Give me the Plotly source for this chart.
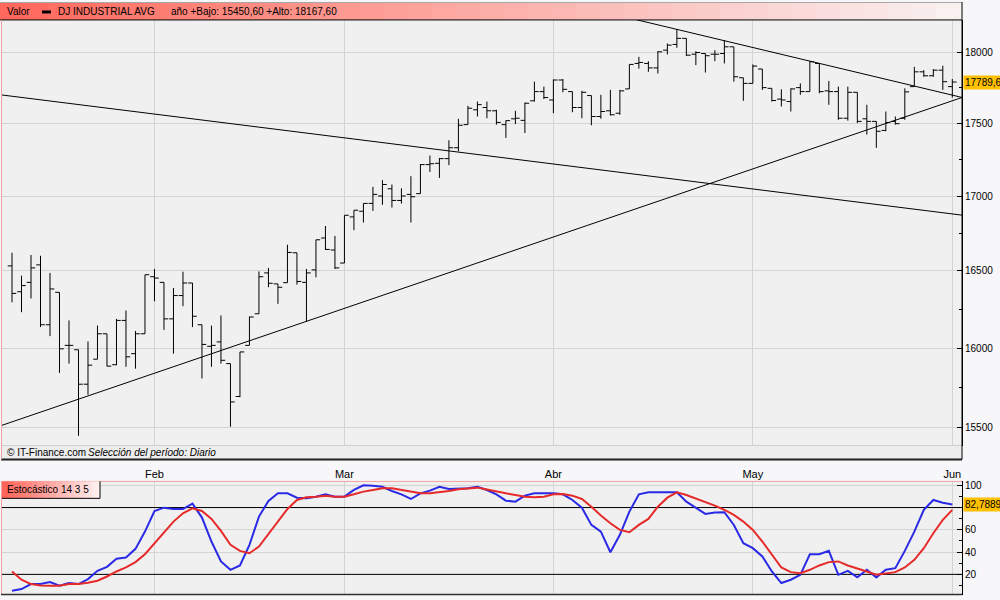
import math
import plotly.graph_objects as go

# trading days shown (DJ Industrial, daily bars)
dates = (
    ["2016-01-%02d" % d for d in [8, 11, 12, 13, 14, 15, 19, 20, 21, 22, 25, 26, 27, 28, 29]]
    + ["2016-02-%02d" % d for d in [1, 2, 3, 4, 5, 8, 9, 10, 11, 12, 16, 17, 18, 19, 22, 23, 24, 25, 26, 29]]
    + ["2016-03-%02d" % d for d in [1, 2, 3, 4, 7, 8, 9, 10, 11, 14, 15, 16, 17, 18, 21, 22, 23, 24, 28, 29, 30, 31]]
    + ["2016-04-%02d" % d for d in [1, 4, 5, 6, 7, 8, 11, 12, 13, 14, 15, 18, 19, 20, 21, 22, 25, 26, 27, 28, 29]]
    + ["2016-05-%02d" % d for d in [2, 3, 4, 5, 6, 9, 10, 11, 12, 13, 16, 17, 18, 19, 20, 23, 24, 25, 26, 27, 31]]
    + ["2016-06-01"]
)

opens = [
    16533, 16364, 16425, 16540, 16150, 16360, 16018, 15990, 15772, 15930,
    16092, 15895, 16178, 15965, 16092, 16462, 16425, 16188, 16339, 16421,
    16150, 16012, 16040, 15902, 15695, 16018, 16221, 16487, 16415, 16423,
    16620, 16425, 16507, 16718, 16638, 16552, 16859, 16897, 16950, 17000,
    17049, 16970, 17011, 17016, 17214, 17223, 17255, 17330, 17490, 17594,
    17610, 17587, 17490, 17531, 17520, 17657, 17722, 17663, 17804, 17722,
    17610, 17694, 17547, 17587, 17570, 17741, 17922, 17922, 17890, 18017,
    18058, 18102, 17988, 17993, 17988, 17993, 18041, 17820, 17780, 17882,
    17745, 17669, 17652, 17750, 17722, 17922, 17727, 17722, 17535, 17717,
    17531, 17513, 17450, 17513, 17535, 17757, 17862, 17834, 17874, 17757,
]
highs = [
    16620, 16469, 16605, 16600, 16487, 16360, 16178, 15990, 16043, 16145,
    16092, 16188, 16242, 16110, 16475, 16513, 16425, 16388, 16495, 16421,
    16150, 16145, 16210, 15902, 15976, 16203, 16497, 16520, 16415, 16673,
    16620, 16513, 16706, 16798, 16732, 16870, 16904, 16950, 17062, 17108,
    17078, 17052, 17135, 17218, 17276, 17260, 17382, 17531, 17622, 17652,
    17652, 17594, 17520, 17587, 17645, 17792, 17757, 17808, 17811, 17722,
    17727, 17694, 17699, 17734, 17734, 17915, 17969, 17938, 18010, 18065,
    18167.6, 18102, 18010, 17993, 18017, 18088, 18041, 17820, 17915, 17882,
    17745, 17738, 17745, 17780, 17938, 17922, 17797, 17757, 17757, 17717,
    17629, 17513, 17582, 17547, 17745, 17898, 17874, 17882, 17906, 17811,
]
lows = [
    16295, 16231, 16320, 16135, 16077, 15843, 15902, 15450.6, 15706, 15930,
    15885, 15892, 15882, 15870, 16092, 16302, 16117, 15965, 16270, 16135,
    15808, 15882, 15902, 15507, 15691, 16018, 16221, 16393, 16285, 16423,
    16410, 16168, 16458, 16638, 16513, 16552, 16770, 16821, 16899, 16940,
    16922, 16949, 16821, 17016, 17164, 17123, 17210, 17306, 17490, 17547,
    17535, 17490, 17398, 17494, 17432, 17652, 17669, 17570, 17717, 17577,
    17535, 17486, 17531, 17554, 17559, 17741, 17885, 17862, 17850, 17986,
    18034, 17976, 17910, 17857, 17938, 17922, 17792, 17657, 17780, 17734,
    17652, 17617, 17582, 17699, 17722, 17710, 17629, 17524, 17518, 17501,
    17421, 17329, 17444, 17490, 17524, 17757, 17827, 17827, 17734, 17680,
]
closes = [
    16353, 16404, 16520, 16150, 16382, 15996, 16018, 15772, 15892, 16092,
    15886, 16178, 15945, 16092, 16475, 16453, 16188, 16339, 16421, 16205,
    16024, 16018, 15923, 15661, 15976, 16200, 16462, 16419, 16393, 16622,
    16431, 16487, 16706, 16642, 16520, 16870, 16904, 16950, 17011, 17078,
    16970, 17000, 16995, 17214, 17220, 17255, 17330, 17486, 17605, 17630,
    17587, 17506, 17518, 17535, 17640, 17722, 17680, 17804, 17738, 17610,
    17717, 17547, 17582, 17559, 17727, 17915, 17929, 17890, 18005, 18053,
    18102, 17981, 18000, 17977, 17988, 18041, 17827, 17780, 17903, 17750,
    17659, 17663, 17741, 17722, 17934, 17722, 17722, 17535, 17717, 17513,
    17513, 17444, 17505, 17497, 17720, 17862, 17834, 17874, 17792, 17789.67,
]

# Estocástico 14 3 5 (%K blue, %D red)
stoch_k = [
    5.3, 6.8, 11.3, 11.3, 13.1, 9.8, 12.2, 11.3, 15.8, 23.2,
    26.8, 34.0, 35.2, 42.9, 58.4, 76.9, 79.9, 78.7, 78.7, 83.5,
    71.0, 49.5, 31.6, 24.1, 28.0, 46.5, 71.9, 85.9, 92.8, 92.8,
    88.9, 88.3, 89.8, 91.9, 89.8, 89.8, 95.8, 100.0, 99.6, 98.7,
    94.9, 91.9, 87.7, 92.8, 95.2, 98.7, 96.7, 96.7, 97.3, 98.7,
    95.8, 91.9, 86.2, 85.3, 90.7, 92.8, 92.8, 92.8, 91.9, 86.8,
    79.9, 64.4, 58.4, 39.9, 55.5, 76.4, 91.9, 93.7, 93.7, 93.7,
    93.7, 85.3, 79.9, 74.3, 75.5, 75.8, 64.4, 48.0, 43.5, 36.1,
    22.6, 12.2, 15.2, 19.6, 38.1, 38.1, 41.1, 19.6, 23.2, 17.3,
    24.1, 17.3, 24.1, 25.6, 41.1, 58.4, 77.9, 86.8, 84.4, 82.7889,
]
stoch_d = [
    22.6, 15.2, 11.3, 10.1, 9.8, 9.8, 11.3, 11.3, 12.5, 14.3,
    18.1, 22.6, 26.2, 31.0, 38.1, 48.0, 58.4, 67.4, 74.9, 79.3,
    76.9, 69.8, 59.0, 46.5, 41.1, 39.0, 45.0, 56.1, 67.4, 78.7,
    86.8, 89.2, 89.8, 90.7, 89.8, 89.8, 91.9, 94.3, 95.8, 97.3,
    97.3, 95.8, 93.7, 92.8, 92.8, 93.7, 94.9, 96.4, 97.3, 97.9,
    96.2, 94.3, 92.8, 91.3, 89.8, 89.2, 89.8, 91.9, 92.2, 90.7,
    87.7, 80.8, 72.8, 65.9, 59.9, 57.8, 64.4, 69.8, 80.8, 88.9,
    93.7, 91.3, 88.3, 85.3, 81.7, 77.9, 73.4, 67.4, 59.9, 49.5,
    37.5, 26.2, 22.0, 21.1, 24.1, 28.0, 31.0, 31.6, 28.0, 25.6,
    22.6, 19.6, 20.5, 22.0, 26.2, 33.1, 43.5, 56.9, 68.9, 77.9,
]

month_dates = ["2016-02-01", "2016-03-01", "2016-04-01", "2016-05-02", "2016-06-01"]
month_labels = ["Feb", "Mar", "Abr", "May", "Jun"]

price_ticks = [15500, 16000, 16500, 17000, 17500, 18000]
price_minor = [15750, 16250, 16750, 17250, 17750]
stoch_ticks = [20, 40, 60, 80, 100]
stoch_ticktext = ["20", "40", "60", "", "100"]  # 80 sits under the value box
stoch_minor = [10, 30, 50, 70, 90]
stoch_levels = [20, 80]

# hand-drawn trend lines: (bar position, value)
trend_support = [(-2, 15497), (101, 17703)]
trend_long = [(-2, 17706), (101, 16863)]
trend_top = [(65, 18249), (101, 17665)]

W, H = 1000, 600
GRID = "#d4d4d4"
PINK = "#f2a0a0"
FONT = "Liberation Sans, Arial, sans-serif"


def px(x):
    return x / W


def py(y):
    return 1 - y / H


def es(v, d):
    return f"{v:.{d}f}".replace(".", ",")


pos = list(range(len(dates)))
month_pos = [dates.index(d) for d in month_dates]
x_range = [-1.053, 100.02]

fig = go.Figure()

fig.add_trace(go.Ohlc(
    x=pos, open=opens, high=highs, low=lows, close=closes,
    increasing=dict(line=dict(color="black", width=1)),
    decreasing=dict(line=dict(color="black", width=1)),
    tickwidth=0.45, hoverinfo="skip", xaxis="x", yaxis="y",
))

for line in [trend_support, trend_long, trend_top]:
    fig.add_trace(go.Scatter(
        x=[p[0] for p in line], y=[p[1] for p in line], mode="lines",
        line=dict(color="black", width=1), hoverinfo="skip",
        xaxis="x", yaxis="y",
    ))

fig.add_trace(go.Scatter(
    x=pos, y=stoch_k, mode="lines", line=dict(color="#2a2ae6", width=2),
    hoverinfo="skip", xaxis="x2", yaxis="y2",
))
fig.add_trace(go.Scatter(
    x=pos, y=stoch_d, mode="lines", line=dict(color="#e62a2a", width=2),
    hoverinfo="skip", xaxis="x2", yaxis="y2",
))

shapes = []


def rect(x0, y0, x1, y1, fill, line_color=None, width=0):
    return dict(type="rect", xref="paper", yref="paper",
                x0=px(x0), x1=px(x1), y0=py(y1), y1=py(y0),
                fillcolor=fill, line=dict(color=line_color or fill, width=width),
                layer="above")


def seg(x0, y0, x1, y1, color, width=1):
    return dict(type="line", xref="paper", yref="paper",
                x0=px(x0), x1=px(x1), y0=py(y0), y1=py(y1),
                line=dict(color=color, width=width), layer="above")


def mix(c0, c1, t):
    return "rgb(%d,%d,%d)" % tuple(round(a + (b - a) * t) for a, b in zip(c0, c1))


# header bar with stepped gradient
step = 24
x = 0
while x < 962:
    x1 = min(x + step, 962)
    shapes.append(rect(x, 0, x1, 18, mix((255, 102, 90), (249, 242, 242), (x + step / 2) / 962)))
    x = x1
shapes.append(seg(0, 0.5, 962, 0.5, "#a8a8a8"))
shapes.append(seg(0, 18, 962, 18, "black"))
shapes.append(rect(42, 8.5, 51, 11.5, "black"))

# footer strip of the price panel
shapes.append(rect(2, 445, 962, 459, "#ededed"))
shapes.append(seg(2, 445, 962, 445, "#cfcfcf"))
shapes.append(seg(1, 459, 962, 459, "#202020", 2))
shapes.append(seg(1.5, 18, 1.5, 459, PINK))
shapes.append(seg(962, 0, 962, 459, "black"))

# stochastic panel frame and label box
shapes.append(seg(1.5, 481, 962, 481, PINK))
shapes.append(seg(1.5, 481, 1.5, 594.5, PINK))
shapes.append(seg(1, 594.5, 962, 594.5, "#303030", 1.5))
x = 2
while x < 100:
    x1 = min(x + 6, 100)
    shapes.append(rect(x, 481, x1, 498, mix((255, 100, 90), (255, 248, 248), (x - 2) / 98)))
    x = x1
shapes.append(seg(100, 481, 100, 498, "black"))
shapes.append(seg(2, 498, 100, 498, "black"))

for lvl in stoch_levels:
    shapes.append(dict(type="line", xref="x2", yref="y2", x0=x_range[0], x1=x_range[1],
                       y0=lvl, y1=lvl, line=dict(color="black", width=1), layer="between"))


def label(x, y, text, size=10, **kw):
    return dict(xref="paper", yref="paper", x=px(x), y=py(y), text=text,
                showarrow=False, xanchor="left", yanchor="middle",
                font=dict(family=FONT, size=size, color="black"), **kw)


annotations = [
    label(5, 9.5, "Valor"),
    label(56, 9.5, "DJ INDUSTRIAL AVG"),
    label(169, 9.5, f"año +Bajo: {es(min(lows), 2)} +Alto: {es(max(highs), 2)}"),
    label(5, 452.5, "© IT-Finance.com"),
    label(86, 452.5, "<i>Selección del período: Diario</i>"),
    label(5, 489.5, "Estocástico 14 3 5"),
    dict(xref="paper", yref="y", x=px(963), y=math.log10(closes[-1]),
         text=es(closes[-1], 2), showarrow=False, xanchor="left", yanchor="middle",
         bgcolor="#ffc000", borderpad=1, font=dict(family=FONT, size=10, color="black")),
    dict(xref="paper", yref="y2", x=px(963), y=stoch_k[-1],
         text=es(stoch_k[-1], 4), showarrow=False, xanchor="left", yanchor="middle",
         bgcolor="#ffc000", borderpad=1, font=dict(family=FONT, size=10, color="black")),
]

axis_font = dict(family=FONT, size=10, color="black")

fig.update_layout(
    width=W, height=H, margin=dict(l=0, r=0, t=0, b=0),
    paper_bgcolor="#f7f7f9", plot_bgcolor="#f0f0f0",
    showlegend=False, hovermode=False,
    font=axis_font,
    shapes=shapes, annotations=annotations,
    xaxis=dict(
        domain=[px(2), px(962)], range=x_range, anchor="y",
        tickmode="array", tickvals=month_pos, showticklabels=False,
        showgrid=True, gridcolor=GRID, zeroline=False, ticks="",
        rangeslider=dict(visible=False),
    ),
    yaxis=dict(
        domain=[py(445), py(18)], type="log", range=[4.18728, 4.26091],
        side="right", anchor="x",
        tickmode="array", tickvals=price_ticks, ticktext=[str(v) for v in price_ticks],
        ticks="inside", ticklen=5, tickcolor="black",
        minor=dict(tickmode="array", tickvals=price_minor, ticks="inside",
                   ticklen=3, tickcolor="black", showgrid=False),
        showline=True, linecolor="black", showgrid=True, gridcolor=GRID,
        zeroline=False, tickfont=axis_font,
    ),
    xaxis2=dict(
        domain=[px(2), px(962)], matches="x", anchor="y2", side="top",
        tickmode="array", tickvals=month_pos, ticktext=month_labels,
        showgrid=True, gridcolor=GRID, zeroline=False, ticks="",
        tickfont=dict(family=FONT, size=11, color="black"),
    ),
    yaxis2=dict(
        domain=[py(594.5), py(481)], range=[1.9, 103.5], anchor="x2", side="right",
        tickmode="array", tickvals=stoch_ticks, ticktext=stoch_ticktext,
        ticks="inside", ticklen=5, tickcolor="black",
        minor=dict(tickmode="array", tickvals=stoch_minor, ticks="inside",
                   ticklen=3, tickcolor="black", showgrid=False),
        showline=True, linecolor="black", showgrid=True, gridcolor=GRID,
        zeroline=False, tickfont=axis_font,
    ),
)

fig.write_html("out.html", config={"displayModeBar": False},
               post_script="document.body.style.margin='0';")
